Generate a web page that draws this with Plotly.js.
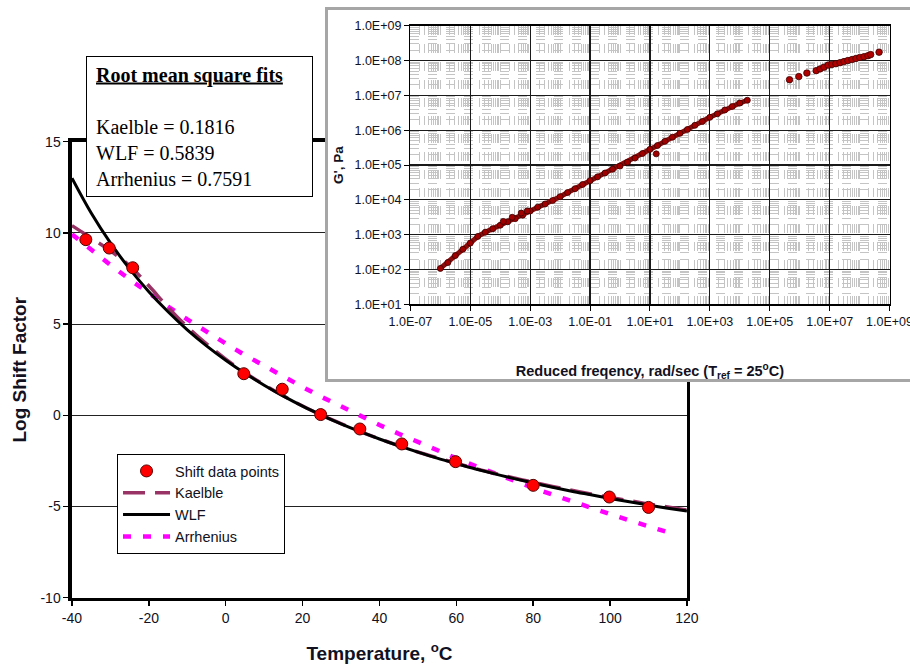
<!DOCTYPE html>
<html>
<head>
<meta charset="utf-8">
<script src="https://cdn.plot.ly/plotly-3.0.1.min.js"></script>
<style>html,body{margin:0;padding:0;background:#fff;}#chart{width:910px;height:670px;}</style>
</head>
<body>
<div id="chart"></div>
<script>
// ---------- Main chart data: log shift factor vs temperature ----------
const shiftTemp = [-36.4, -30.3, -24.2, 4.7, 14.7, 24.7, 34.9, 45.8, 59.8, 80.0, 99.8, 110.0];
const shiftVal  = [9.63, 9.17, 8.09, 2.28, 1.43, 0.04, -0.75, -1.57, -2.54, -3.84, -4.48, -5.05];

const curveTemp = [-40,-35,-30,-25,-20,-15,-10,-5,0,5,10,15,20,25,30,35,40,45,50,55,60,65,70,75,80,85,90,95,100,105,110,115,120];
const wlfVal    = [13.0,11.09,9.45,8.03,6.78,5.68,4.69,3.81,3.02,2.30,1.65,1.05,0.50,0,-0.47,-0.90,-1.30,-1.67,-2.02,-2.35,-2.65,-2.94,-3.21,-3.47,-3.71,-3.94,-4.16,-4.36,-4.56,-4.74,-4.92,-5.09,-5.25];
const kaelbleVal= [10.4,9.72,9.02,8.2,7.1,5.92,4.85,3.92,3.08,2.34,1.68,1.07,0.51,0,-0.46,-0.89,-1.29,-1.66,-2.01,-2.33,-2.63,-2.92,-3.18,-3.44,-3.67,-3.90,-4.11,-4.31,-4.50,-4.68,-4.86,-5.03,-5.19];

const arrhTemp = [-40,-35,-30,-25,-20,-15,-10,-5,0,5,10,15,20,25,30,35,40,45,50,55,60,65,70,75,80,85,90,95,100,105,110,115,117];
const arrhVal  = [9.92,9.06,8.24,7.45,6.69,5.96,5.26,4.58,3.93,3.30,2.70,2.11,1.55,1.00,0.48,-0.03,-0.53,-1.01,-1.47,-1.92,-2.36,-2.78,-3.19,-3.59,-3.98,-4.35,-4.72,-5.08,-5.42,-5.76,-6.09,-6.41,-6.54];

const fitTitle = 'Root mean square fits';
const fitNames = ['Kaelble', 'WLF', 'Arrhenius'];
const fitRms   = ['0.1816', '0.5839', '0.7591'];

const tempTicks = [-40,-20,0,20,40,60,80,100,120];
const tempTickText = ['-40','-20','0','20','40','60','80','100','120'];
const shiftTicks = [-10,-5,0,5,10,15];
const shiftTickText = ['-10','-5','0','5','10','15'];

// ---------- Inset data: G' master curve ----------
const freqMain = [1e-6,1.78e-6,3.16e-6,5.62e-6,1e-5,1.78e-5,3.16e-5,5.62e-5,1e-4,1.78e-4,3.16e-4,5.62e-4,1e-3,1.78e-3,3.16e-3,5.62e-3,1e-2,1.78e-2,3.16e-2,5.62e-2,1e-1,1.78e-1,3.16e-1,5.62e-1,1,1.78,3.16,5.62,10,17.8,31.6,56.2,100,178,316,562,1000,1780,3160,5620,1e4,1.78e4];
const gMain    = [107,158,251,380,575,891,1175,1479,1862,2344,2884,3631,4786,6166,7586,9550,12300,16220,20890,27540,35480,45710,58880,75860,93330,120200,158500,213800,281800,363100,478600,631000,812800,1047000,1380000,1778000,2344000,2951000,3802000,4786000,6026000,7244000];

const freqScatter = [1.26e-4, 2.51e-4, 5.01e-4, 7.94e-4, 16.2];
const gScatter    = [2399, 3162, 4169, 4786, 209000];

const freqHigh = [4.57e5,9.33e5,1.74e6,3.55e6,4.79e6,6.46e6,8.91e6,1.20e7,1.62e7,2.24e7,3.02e7,4.07e7,5.62e7,7.59e7,1.02e8,1.41e8,1.91e8,2.34e8,4.47e8];
const gHigh    = [2.82e7,3.47e7,4.37e7,5.13e7,5.75e7,6.46e7,7.41e7,7.76e7,8.13e7,8.71e7,9.33e7,1.00e8,1.07e8,1.15e8,1.23e8,1.29e8,1.38e8,1.48e8,1.74e8];

const freqTickVals = [1e-7,1e-5,1e-3,1e-1,1e1,1e3,1e5,1e7,1e9];
const freqTickText = ['1.0E-07','1.0E-05','1.0E-03','1.0E-01','1.0E+01','1.0E+03','1.0E+05','1.0E+07','1.0E+09'];
const gTickVals = [1e1,1e2,1e3,1e4,1e5,1e6,1e7,1e8,1e9];
const gTickText = ['1.0E+01','1.0E+02','1.0E+03','1.0E+04','1.0E+05','1.0E+06','1.0E+07','1.0E+08','1.0E+09'];

const SANS = 'Liberation Sans, Arial, sans-serif';
const SERIF = 'Liberation Serif, Times New Roman, serif';
const TXT = '#111122';
const MINOR = '#c4c4c4';

const traces = [
  {x: arrhTemp, y: arrhVal, name: 'Arrhenius', mode: 'lines', legendgroup: 'd', legendrank: 4,
   line: {color: '#ff00ff', width: 4.5, dash: '8px,12px'}, hoverinfo: 'skip'},
  {x: curveTemp, y: kaelbleVal, name: 'Kaelble', mode: 'lines', legendgroup: 'b', legendrank: 2,
   line: {color: '#993366', width: 3.5, dash: '22px,10px', shape: 'spline'}, hoverinfo: 'skip'},
  {x: curveTemp, y: wlfVal, name: 'WLF', mode: 'lines', legendgroup: 'c', legendrank: 3,
   line: {color: '#000000', width: 3, shape: 'spline'}, hoverinfo: 'skip'},
  {x: shiftTemp, y: shiftVal, name: 'Shift data points', mode: 'markers', legendgroup: 'a', legendrank: 1,
   marker: {color: '#ff0000', size: 12, line: {color: '#5a0000', width: 1}}, hoverinfo: 'skip'},
  // dummy subplot forming the inset frame
  {x: [], y: [], xaxis: 'x2', yaxis: 'y2', showlegend: false, hoverinfo: 'skip'},
  // inset data
  {x: freqMain, y: gMain, xaxis: 'x3', yaxis: 'y3', mode: 'lines+markers', showlegend: false,
   line: {color: '#8b0a0a', width: 5}, marker: {color: '#a00000', size: 6, line: {color: '#3a0000', width: 0.8}}, hoverinfo: 'skip'},
  {x: freqScatter, y: gScatter, xaxis: 'x3', yaxis: 'y3', mode: 'markers', showlegend: false,
   marker: {color: '#a00000', size: 6, line: {color: '#3a0000', width: 0.8}}, hoverinfo: 'skip'},
  {x: freqHigh, y: gHigh, xaxis: 'x3', yaxis: 'y3', mode: 'markers', showlegend: false,
   marker: {color: '#b00000', size: 6.5, line: {color: '#3a0000', width: 0.8}}, hoverinfo: 'skip'}
];

const annText = '&nbsp;<b><u>' + fitTitle + '</u></b><br> <br>' +
  fitNames.map((n, i) => '&nbsp;' + n + ' = ' + fitRms[i]).join('<br>');

const layout = {
  width: 910, height: 670,
  margin: {l: 0, r: 0, t: 0, b: 0},
  paper_bgcolor: '#ffffff', plot_bgcolor: '#ffffff',
  font: {family: SANS, color: TXT},
  showlegend: true,
  legend: {x: 0.1286, y: 0.3224, xanchor: 'left', yanchor: 'top', bgcolor: '#ffffff',
           bordercolor: '#000000', borderwidth: 1, font: {size: 14.5, color: TXT},
           tracegroupgap: 5, itemwidth: 47, traceorder: 'normal'},
  xaxis: {domain: [0.0791, 0.7549], range: [-40, 120], tickmode: 'array', tickvals: tempTicks, ticktext: tempTickText,
          ticks: 'outside', ticklen: 5, tickwidth: 1.5, tickcolor: '#000',
          showline: true, linecolor: '#000', linewidth: 3.5, mirror: true,
          showgrid: false, zeroline: false, tickfont: {size: 14, color: TXT}, anchor: 'y',
          title: {text: 'Temperature, <sup>o</sup>C', font: {size: 19, weight: 'bold', color: TXT}, standoff: 22}},
  yaxis: {domain: [0.1079, 0.7885], range: [-10, 15], tickmode: 'array', tickvals: shiftTicks, ticktext: shiftTickText,
          ticks: 'outside', ticklen: 5, tickwidth: 1.5, tickcolor: '#000',
          showline: true, linecolor: '#000', linewidth: 3.5, mirror: true,
          showgrid: true, gridcolor: '#222', gridwidth: 1, zeroline: false,
          tickfont: {size: 14, color: TXT}, anchor: 'x',
          title: {text: 'Log Shift Factor', font: {size: 19, weight: 'bold', color: TXT}, standoff: 10}},
  xaxis2: {domain: [0.3604, 1.0], range: [0, 1], anchor: 'y2', showline: true, mirror: true,
           linecolor: '#a6a6a6', linewidth: 2.5, showgrid: false, zeroline: false,
           showticklabels: false, ticks: '', fixedrange: true},
  yaxis2: {domain: [0.4343, 0.9858], range: [0, 1], anchor: 'x2', showline: true, mirror: true,
           linecolor: '#a6a6a6', linewidth: 2.5, showgrid: false, zeroline: false,
           showticklabels: false, ticks: '', fixedrange: true},
  xaxis3: {domain: [0.4510, 0.9775], type: 'log', range: [-7, 9], anchor: 'y3',
           tickmode: 'array', tickvals: freqTickVals, ticktext: freqTickText, ticklabeloverflow: 'allow',
           ticks: 'outside', ticklen: 5, tickcolor: '#000', tickwidth: 1,
           showline: true, linecolor: '#000', linewidth: 1.5, mirror: true,
           showgrid: true, gridcolor: '#1a1a1a', gridwidth: 1.2, zeroline: false,
           minor: {dtick: 'D1', showgrid: true, gridcolor: MINOR, gridwidth: 1, griddash: 'dash', ticks: ''},
           tickfont: {size: 12.5, color: TXT},
           title: {text: 'Reduced freqency, rad/sec (T<sub>ref</sub> = 25<sup>o</sup>C)', font: {size: 14.5, weight: 'bold', color: TXT}, standoff: 38}},
  yaxis3: {domain: [0.5458, 0.9616], type: 'log', range: [1, 9], anchor: 'x3',
           tickmode: 'array', tickvals: gTickVals, ticktext: gTickText,
           ticks: 'outside', ticklen: 5, tickcolor: '#000', tickwidth: 1,
           showline: true, linecolor: '#000', linewidth: 1.5, mirror: true,
           showgrid: true, gridcolor: '#1a1a1a', gridwidth: 1.2, zeroline: false,
           minor: {dtick: 'D1', showgrid: true, gridcolor: MINOR, gridwidth: 1, griddash: 'dash', ticks: ''},
           tickfont: {size: 12.5, color: TXT},
           title: {text: "G', Pa", font: {size: 13.5, weight: 'bold', color: TXT}, standoff: 8}},
  annotations: [{
    xref: 'paper', yref: 'paper', x: 86 / 910, y: 1 - 56 / 670, xanchor: 'left', yanchor: 'top',
    text: annText, showarrow: false, align: 'left', valign: 'middle',
    font: {family: SERIF, size: 20, color: '#000'},
    bgcolor: '#ffffff', bordercolor: '#000000', borderwidth: 1, borderpad: 4,
    width: 217, height: 131
  }]
};

Plotly.newPlot('chart', traces, layout, {staticPlot: true, displayModeBar: false});
</script>
</body>
</html>
